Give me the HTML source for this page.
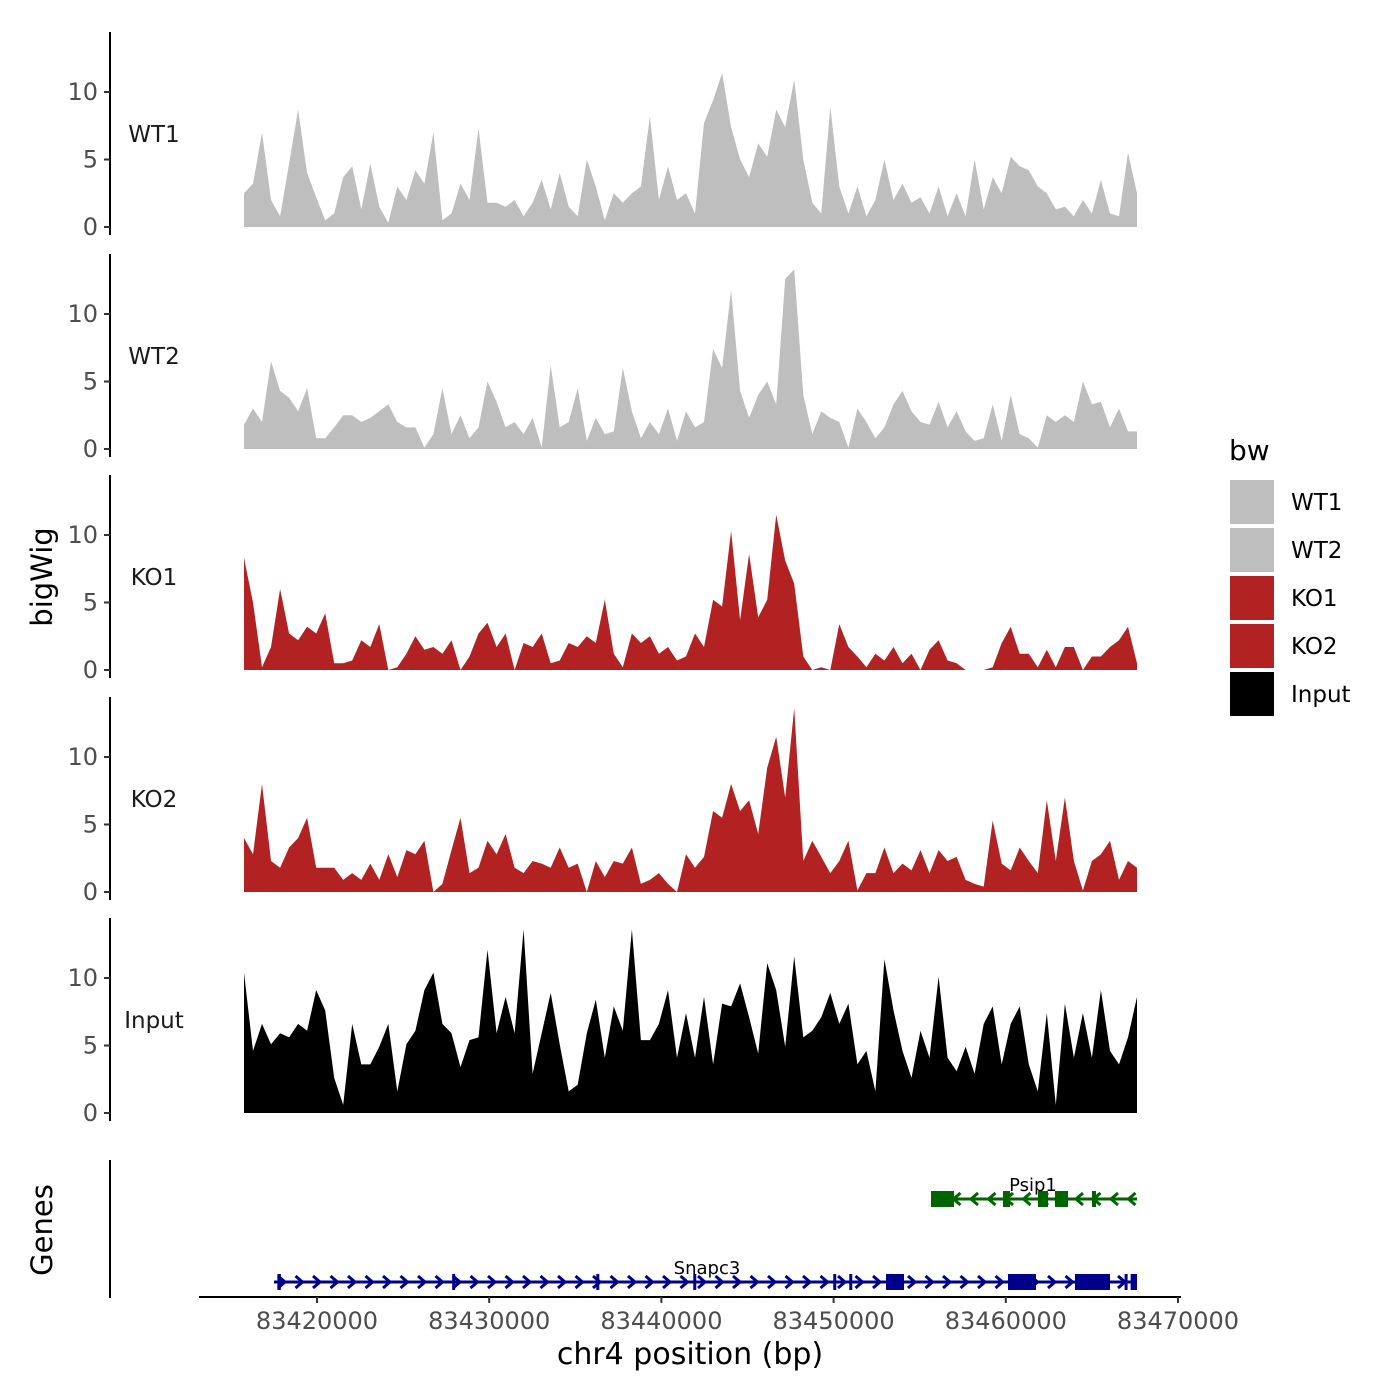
<!DOCTYPE html>
<html><head><meta charset="utf-8"><style>
body{margin:0;background:#fff}
svg{display:block;font-family:"DejaVu Sans","Liberation Sans",sans-serif}
</style></head><body>
<svg id="chart" width="1400" height="1400" viewBox="0 0 1400 1400" xmlns="http://www.w3.org/2000/svg">
<rect width="1400" height="1400" fill="#fff"/>
<text x="0" y="0" transform="translate(52,577) rotate(-90)" text-anchor="middle" font-size="29" fill="#000">bigWig</text>
<text x="0" y="0" transform="translate(52,1230) rotate(-90)" text-anchor="middle" font-size="29" fill="#000">Genes</text>
<text x="690" y="1364" text-anchor="middle" font-size="30" fill="#000">chr4 position (bp)</text>
<g id="tracks"></g>
<g id="genes"></g>
<g id="xaxis"></g>
<g id="legend"></g>
</svg>
<script>
const trackNames = ["WT1","WT2","KO1","KO2","Input"];
const trackColors = ["#bebebe","#bebebe","#b22222","#b22222","#000000"];
const wt1 = [2.5,3.2,7,2,0.8,4.7,8.7,4,2.2,0.5,1,3.7,4.5,1.3,4.7,1.5,0.3,3,2,4.2,3.2,7,0.5,1,3.2,2,7.3,1.8,1.8,1.5,2,0.8,1.8,3.5,1.3,4,1.5,0.8,5,3,0.5,2.5,1.8,2.5,3,8.2,2,4.5,2,2.5,1,7.7,9.4,11.4,7.4,5,3.7,6.2,5.2,8.7,7.4,10.9,5,1.8,1,8.9,3,1,3,0.8,2,5,2,3.2,1.8,2.2,1,3,0.8,2.5,0.8,5,1.3,3.7,2.5,5.2,4.5,4.2,3,2.5,1.3,1.5,0.8,2,1,3.5,1,0.8,5.5,2.5];
const wt2 = [1.8,3,2,6.5,4.3,3.8,2.8,4.5,0.8,0.8,1.6,2.5,2.5,2,2.3,2.8,3.3,2,1.6,1.6,0.1,1.1,4.5,1.1,2.5,0.8,1.6,5,3.5,1.6,2,1.1,2.3,0.1,6.2,1.6,2,4.5,0.6,2.3,1.1,1.3,6,2.8,0.8,2,1.1,3,0.6,2.8,1.6,2,7.4,6,11.8,4.3,2.3,4,5,3.3,12.6,13.3,4,1.1,2.8,2.3,2,0.1,3,2,0.8,1.6,3.3,4.3,2.8,2,1.8,3.5,1.6,2.8,1.3,0.6,0.8,3.3,0.6,4,1.1,0.8,0.1,2.5,2,2.5,2,5,3.3,3.5,1.6,3,1.3,1.3];
const ko1 = [8.3,5,0.2,1.7,6,2.7,2.2,3.2,2.7,4.2,0.5,0.5,0.7,2.2,1.7,3.4,0,0.2,1.2,2.5,1.5,1.7,1.2,2.2,0,1,2.7,3.5,1.7,2.7,0,2,1.7,2.7,0.5,0.7,2,1.7,2.5,2,5.2,1.2,0.2,2.7,2,2.5,1.2,1.7,0.7,1,2.7,1.7,5.2,4.7,10.3,3.7,8.6,3.9,5.2,11.5,8.1,6.4,1,0,0.2,0,3.4,1.7,1,0.2,1.2,0.7,1.7,0.5,1.2,0,1.5,2.2,0.7,0.5,0,0,0,0.2,2,3.2,1.2,1.2,0.2,1.5,0.2,1.7,1.7,0,1,1,1.7,2.2,3.2,0.5];
const ko2 = [4,2.8,8,2.3,1.8,3.3,4,5.5,1.8,1.8,1.8,0.9,1.4,0.9,2.1,0.9,2.8,1.1,3.1,2.8,3.8,0,0.6,3.1,5.5,1.4,1.8,3.8,2.8,4.3,1.8,1.4,2.3,2.1,1.8,3.3,1.8,2.1,0,2.3,1.1,2.3,2.1,3.3,0.6,0.9,1.4,0.6,0,2.8,1.8,2.6,6,5.5,8,6,6.8,4.3,9.2,11.5,7,13.6,2.3,3.8,2.6,1.4,2.3,3.8,0.1,1.4,1.4,3.3,1.4,2.1,1.6,3.1,1.4,3.1,2.3,2.6,0.9,0.6,0.4,5.3,2.1,1.6,3.3,2.3,1.4,6.8,2.3,7,2.3,0.1,2.3,2.8,3.8,0.9,2.3,1.8];
const inputSig = [10.4,4.6,6.6,5.1,5.9,5.6,6.6,6.1,9.1,7.6,2.6,0.6,6.6,3.6,3.6,4.9,6.6,1.6,5.1,6.1,9.1,10.4,6.6,5.9,3.4,5.4,5.6,12.1,5.9,8.6,5.9,13.6,2.9,5.9,8.9,5.1,1.6,2.1,5.9,8.4,4.1,7.9,6.1,13.6,5.4,5.4,6.6,9.1,4.1,7.4,4.1,8.6,3.6,8.1,7.9,9.6,7.1,4.4,11.1,9.1,4.9,11.6,5.6,6.1,7.1,8.9,6.6,8.1,3.6,4.6,1.6,11.4,7.6,4.6,2.6,6.1,4.1,10.1,4.1,3.1,4.9,2.9,6.6,7.9,3.6,6.6,7.9,3.6,1.6,7.4,0.6,8.1,4.1,7.4,4.1,9.1,4.6,3.6,5.6,8.6];
const trackValues = [wt1, wt2, ko1, ko2, inputSig];
const yTicks = [0,5,10];
const xTicks = [83420000,83430000,83440000,83450000,83460000,83470000];
const signalStart = 83415760, signalEnd = 83467620;
const snapc3Range = [83417503, 83467619];
const snapc3Exons = [[83417700,83417900],[83427850,83427950],[83436220,83436300],[83441850,83441940],[83449980,83450060],[83450910,83450990],[83453043,83454088],[83460128,83461754],[83464019,83466051],[83466900,83466980],[83467250,83467619]];
const psip1Range = [83455656, 83467619];
const psip1Exons = [[83455656,83456992],[83459837,83460244],[83461870,83462451],[83462857,83463612],[83465006,83465238]];

const NS = "http://www.w3.org/2000/svg";
function mk(tag, attrs, parent){const e=document.createElementNS(NS,tag);for(const k in attrs)e.setAttribute(k,attrs[k]);parent.appendChild(e);return e;}
const xScale = bp => 317 + (bp - 83420000) * 0.01722;
const trackBase = [227, 449, 670, 892, 1113];
const unit = 13.5;

const tg = document.getElementById('tracks');
trackNames.forEach((nm, t) => {
  const base = trackBase[t];
  const y = v => base - v * unit;
  const g = mk('g', {}, tg);
  
  
  const vals = trackValues[t];
  const n = vals.length;
  let d = 'M' + xScale(signalStart).toFixed(1) + ',' + base;
  vals.forEach((v, i) => {
    const bp = signalStart + (signalEnd - signalStart) * i / (n - 1);
    d += 'L' + xScale(bp).toFixed(1) + ',' + y(v).toFixed(1);
  });
  d += 'L' + xScale(signalEnd).toFixed(1) + ',' + base + 'Z';
  const p = mk('path', {d: d, fill: trackColors[t]}, g);
  
  
  const ax = mk('line', {x1: 110, x2: 110, y1: base - 195, y2: base + 8, stroke: '#000', 'stroke-width': 2}, g);
  
  
  yTicks.forEach(v => {
    const tk = mk('line', {x1: 104, x2: 110, y1: y(v), y2: y(v), stroke: '#333', 'stroke-width': 2}, g);
    
    
    const tl = mk('text', {x: 98, y: y(v) + 8, 'text-anchor': 'end', 'font-size': 24, fill: '#4d4d4d'}, g);
    tl.textContent = v;
    
    
  });
  const lab = mk('text', {x: 154, y: base - 85, 'text-anchor': 'middle', 'font-size': 23, fill: '#1a1a1a'}, g);
  lab.textContent = nm;
  
  
});

const gg = document.getElementById('genes');
function drawGene(name, range, exons, yc, color, dir, labelX, labelY){
  const g = mk('g', {}, gg);
  
  
  const l = mk('line', {x1: xScale(range[0]), x2: xScale(range[1]), y1: yc, y2: yc, stroke: color, 'stroke-width': 3}, g);
  
  
  const x0 = xScale(range[0]) + 8, x1 = xScale(range[1]) - 4;
  for (let x = x0; x < x1; x += 17.5) {
    const c = mk('path', {d: dir > 0 ? `M${x-4},${yc-6}L${x+3},${yc}L${x-4},${yc+6}` : `M${x+4},${yc-6}L${x-3},${yc}L${x+4},${yc+6}`, stroke: color, 'stroke-width': 3, fill: 'none'}, g);
    
    
  }
  exons.forEach(e => {
    const xa = xScale(e[0]), xb = xScale(e[1]);
    const r = mk('rect', {x: xa, y: yc - 8, width: Math.max(3, xb - xa), height: 16, fill: color}, g);
    
    
  });
  const t = mk('text', {x: labelX, y: labelY, 'text-anchor': 'middle', 'font-size': 18, fill: '#000'}, g);
  t.textContent = name;
  
  
}
drawGene('Snapc3', snapc3Range, snapc3Exons, 1282, '#00008b', 1, 707, 1274);
drawGene('Psip1', psip1Range, psip1Exons, 1199, '#006400', -1, 1033, 1191);
const gax = mk('line', {x1: 110, x2: 110, y1: 1160, y2: 1298, stroke: '#000', 'stroke-width': 2}, gg);



const xg = document.getElementById('xaxis');
const xl = mk('line', {x1: 199, x2: 1181, y1: 1297, y2: 1297, stroke: '#000', 'stroke-width': 2}, xg);


xTicks.forEach(bp => {
  const x = xScale(bp);
  const tk = mk('line', {x1: x, x2: x, y1: 1297, y2: 1303, stroke: '#333', 'stroke-width': 2}, xg);
  
  
  const t = mk('text', {x: x, y: 1329, 'text-anchor': 'middle', 'font-size': 24, fill: '#4d4d4d'}, xg);
  t.textContent = bp;
  
  
});

const lg = document.getElementById('legend');


const lt = mk('text', {x: 1229, y: 460, 'font-size': 28, fill: '#000'}, lg);
lt.textContent = 'bw';


trackNames.forEach((nm, i) => {
  const y0 = 480 + i * 48;
  const r = mk('rect', {x: 1230, y: y0, width: 44, height: 44, fill: trackColors[i]}, lg);
  
  
  const t = mk('text', {x: 1291, y: y0 + 30, 'font-size': 23, fill: '#000'}, lg);
  t.textContent = nm;
  
  
});
</script>
</body></html>
